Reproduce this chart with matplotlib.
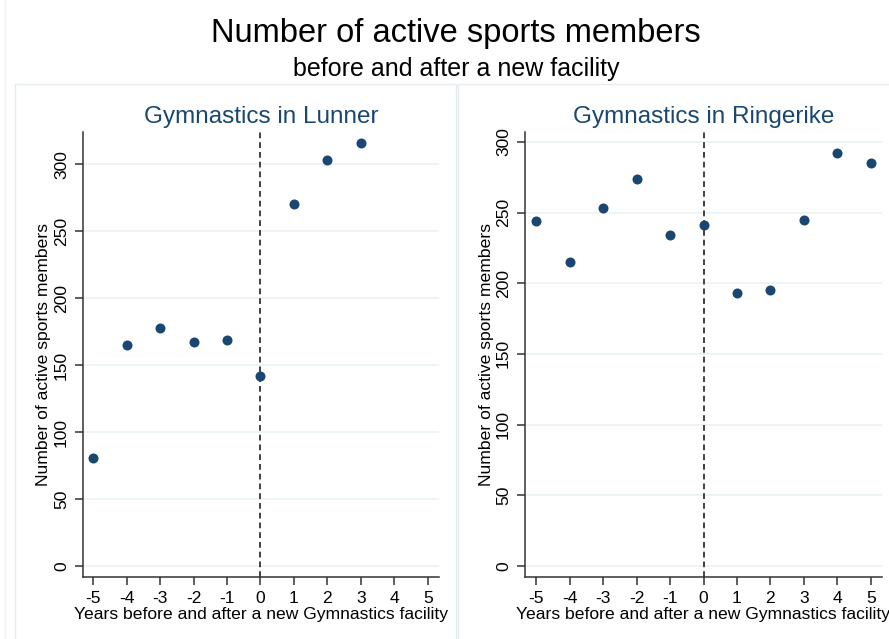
import matplotlib
matplotlib.use("Agg")
import matplotlib.pyplot as plt
from matplotlib.patches import Rectangle

plt.rcParams['font.family'] = ['Liberation Sans', 'DejaVu Sans']

# data
years = [-5, -4, -3, -2, -1, 0, 1, 2, 3, 4, 5]
lunner_years = [-5, -4, -3, -2, -1, 0, 1, 2, 3]
lunner_members = [81, 165, 178, 167, 169, 142, 270, 303, 316]
ringerike_years = [-5, -4, -3, -2, -1, 0, 1, 2, 3, 4, 5]
ringerike_members = [244, 215, 253, 274, 234, 241, 193, 195, 245, 292, 285]
y_ticks = [0, 50, 100, 150, 200, 250, 300]

navy = '#1a476f'
grid_col = '#eaf2f3'
box_col = '#e3ebef'

W, H = 889, 639
fig = plt.figure(figsize=(W / 100, H / 100), dpi=100)
fig.patch.set_facecolor('white')

# panel boxes (Stata-like graph regions)
fig.add_artist(Rectangle((5 / W, -0.1), 1.2, 1.2, transform=fig.transFigure,
                         fill=False, edgecolor='#f0f3f5', linewidth=1))
fig.add_artist(Rectangle((15 / W, -0.1), (456 - 15) / W, (639 - 84) / H + 0.1,
                         transform=fig.transFigure, fill=False, edgecolor=box_col, linewidth=1))
fig.add_artist(Rectangle((458 / W, -0.1), 0.6, (639 - 84) / H + 0.1,
                         transform=fig.transFigure, fill=False, edgecolor=box_col, linewidth=1))

fig.text(456 / W, 1 - 42 / H, 'Number of active sports members', ha='center', va='baseline', fontsize=23.5)
fig.text(456 / W, 1 - 76 / H, 'before and after a new facility', ha='center', va='baseline', fontsize=18)

panels = [
    ('Gymnastics in Lunner', lunner_years, lunner_members, (83, 439), (-8.2, 324), (-5.3, 5.33), 44),
    ('Gymnastics in Ringerike', ringerike_years, ringerike_members, (525, 882), (-7.8, 307), (-5.33, 5.33), 486),
]

for title, xs, ys, (x0, x1), ylim, xlim, ylab_x in panels:
    ax = fig.add_axes([x0 / W, (H - 577) / H, (x1 - x0) / W, (577 - 132) / H])
    ax.set_xlim(*xlim)
    ax.set_ylim(*ylim)
    ax.set_yticks(y_ticks)
    ax.set_xticks(years)
    ax.set_xticklabels([str(v) for v in years])
    ax.grid(axis='y', color=grid_col, linewidth=1.2)
    ax.set_axisbelow(True)
    ax.axvline(0, color='#333333', linestyle=(0, (3.2, 2.2)), linewidth=1.3, zorder=2)
    ax.scatter(xs, ys, s=52, color=navy, zorder=3, linewidths=0)
    for s in ['top', 'right']:
        ax.spines[s].set_visible(False)
    for s in ['left', 'bottom']:
        ax.spines[s].set_color('#333333')
        ax.spines[s].set_linewidth(1.1)
    ax.tick_params(axis='both', color='#333333', length=5.5, width=1.1, labelsize=12.6, pad=4.5)
    plt.setp(ax.get_yticklabels(), rotation=90, va='center')
    ax.set_xlabel('Years before and after a new Gymnastics facility', fontsize=12.6, labelpad=1)
    fig.text(ylab_x / W, 1 - 354.5 / H, 'Number of active sports members', rotation=90,
             ha='center', va='center', fontsize=12.6)
    fig.text((x0 + x1) / 2 / W, 1 - 123 / H, title, ha='center', va='baseline',
             fontsize=17.5, color=navy)

fig.savefig('out.png', dpi=100)
